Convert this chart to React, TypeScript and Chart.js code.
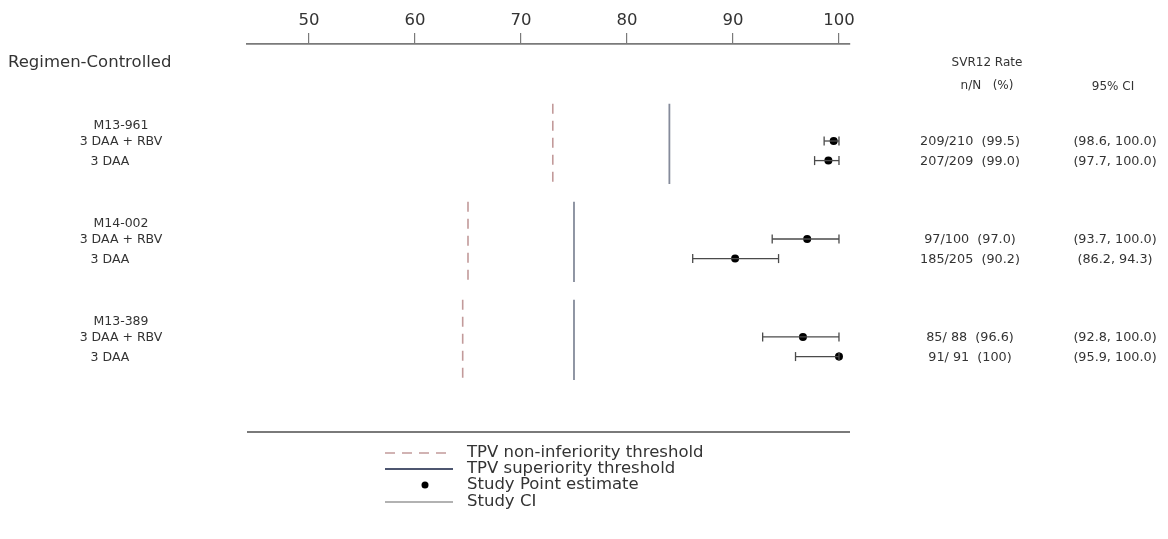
import React, { useEffect, useRef } from 'react';
import { Chart, registerables } from 'chart.js';

Chart.register(...registerables);

// ---- data ----
const studies = ['M13-961', 'M14-002', 'M13-389'];
const regimens = ['3 DAA + RBV', '3 DAA'];
const pointEstimates = [[99.5, 99.0], [97.0, 90.2], [96.6, 100]];
const ciLower = [[98.6, 97.7], [93.7, 86.2], [92.8, 95.9]];
const ciUpper = [[100.0, 100.0], [100.0, 94.3], [100.0, 100.0]];
const responders = [['209/210', '207/209'], ['97/100', '185/205'], ['85/ 88', '91/ 91']];
const rateLabels = [['(99.5)', '(99.0)'], ['(97.0)', '(90.2)'], ['(96.6)', '(100)']];
const ciLabels = [
  ['(98.6, 100.0)', '(97.7, 100.0)'],
  ['(93.7, 100.0)', '(86.2, 94.3)'],
  ['(92.8, 100.0)', '(95.9, 100.0)'],
];
const nonInferiority = [73, 65, 64.5];
const superiority = [84, 75, 75];
const xTicks = [50, 60, 70, 80, 90, 100];
const legendLabels = [
  'TPV non-inferiority threshold',
  'TPV superiority threshold',
  'Study Point estimate',
  'Study CI',
];

// ---- layout / style ----
const GROUP_STEP = 5;
const FONT = '"DejaVu Sans", Verdana, sans-serif';
const TEXT = '#333';
const NI_COLOR = '#c29a9a';
const SUP_COLOR = '#858b9b';
const CI_COLOR = '#4a4a4a';
const AXIS_COLOR = '#7a7a7a';

const rowY = (g: number, r: number) => g * GROUP_STEP + r;

const textPlugin = {
  id: 'forestText',
  afterDraw(chart: any) {
    const ctx = chart.ctx as CanvasRenderingContext2D;
    const { chartArea } = chart;
    const ys = chart.scales.y;
    ctx.save();

    // bottom rule
    ctx.strokeStyle = AXIS_COLOR;
    ctx.lineWidth = 1.8;
    ctx.beginPath();
    ctx.moveTo(chartArea.left, chartArea.bottom);
    ctx.lineTo(chartArea.right, chartArea.bottom);
    ctx.stroke();

    ctx.fillStyle = TEXT;
    ctx.textBaseline = 'middle';

    // headers
    ctx.font = `16.5px ${FONT}`;
    ctx.textAlign = 'left';
    ctx.fillText('Regimen-Controlled', 8, 63);
    ctx.font = `12px ${FONT}`;
    ctx.textAlign = 'center';
    ctx.fillText('SVR12 Rate', 987, 63);
    ctx.fillText('n/N   (%)', 987, 86);
    ctx.fillText('95% CI', 1113, 87);

    // rows
    studies.forEach((s, g) => {
      ctx.font = `12.5px ${FONT}`;
      ctx.textAlign = 'center';
      ctx.fillText(s, 121, ys.getPixelForValue(rowY(g, 0) - 0.78));
      regimens.forEach((rg, r) => {
        const y = ys.getPixelForValue(rowY(g, r)) + 1;
        ctx.textAlign = 'center';
        ctx.fillText(rg, r === 0 ? 121 : 110, y);
        ctx.font = `12.8px ${FONT}`;
        ctx.fillText(`${responders[g][r]}  ${rateLabels[g][r]}`, 970, y);
        ctx.fillText(ciLabels[g][r], 1115, y);
        ctx.font = `12.5px ${FONT}`;
      });
    });

    // legend
    const lx0 = 385;
    const lx1 = 453;
    const ly = [453, 469, 485, 502];
    ctx.lineWidth = 1.5;
    // dashed
    ctx.strokeStyle = NI_COLOR;
    ctx.setLineDash([10, 7]);
    ctx.beginPath();
    ctx.moveTo(lx0, ly[0]);
    ctx.lineTo(lx1, ly[0]);
    ctx.stroke();
    ctx.setLineDash([]);
    // superiority
    ctx.strokeStyle = '#4d5670';
    ctx.lineWidth = 1.8;
    ctx.beginPath();
    ctx.moveTo(lx0, ly[1]);
    ctx.lineTo(lx1, ly[1]);
    ctx.stroke();
    // point
    ctx.fillStyle = '#000';
    ctx.beginPath();
    ctx.arc(425, ly[2], 3.5, 0, Math.PI * 2);
    ctx.fill();
    // CI
    ctx.strokeStyle = '#666';
    ctx.lineWidth = 1.2;
    ctx.beginPath();
    ctx.moveTo(lx0, ly[3]);
    ctx.lineTo(lx1, ly[3]);
    ctx.stroke();

    ctx.fillStyle = TEXT;
    ctx.font = `16.5px ${FONT}`;
    ctx.textAlign = 'left';
    legendLabels.forEach((t, i) => ctx.fillText(t, 467, ly[i]));

    ctx.restore();
  },
};

export default function App() {
  const ref = useRef<HTMLCanvasElement | null>(null);

  useEffect(() => {
    if (!ref.current) return;
    const datasets: any[] = [];

    studies.forEach((_, g) => {
      const yTop = rowY(g, 0) - 1.9;
      const yBot = rowY(g, 1) + 1.2;
      datasets.push({
        data: [{ x: nonInferiority[g], y: yTop }, { x: nonInferiority[g], y: yBot }],
        showLine: true,
        borderColor: NI_COLOR,
        borderWidth: 1.6,
        borderDash: [10, 7],
        pointRadius: 0,
      });
      datasets.push({
        data: [{ x: superiority[g], y: yTop }, { x: superiority[g], y: yBot }],
        showLine: true,
        borderColor: SUP_COLOR,
        borderWidth: 1.8,
        pointRadius: 0,
      });
    });

    studies.forEach((_, g) => {
      regimens.forEach((__, r) => {
        const y = rowY(g, r);
        datasets.push({
          data: [{ x: ciLower[g][r], y }, { x: ciUpper[g][r], y }],
          showLine: true,
          borderColor: CI_COLOR,
          borderWidth: 1.3,
          pointStyle: 'line',
          rotation: 90,
          pointRadius: 4.5,
          pointBorderWidth: 1.3,
          pointBorderColor: CI_COLOR,
          pointBackgroundColor: CI_COLOR,
        });
      });
    });

    datasets.push({
      data: studies.flatMap((_, g) => regimens.map((__, r) => ({ x: pointEstimates[g][r], y: rowY(g, r) }))),
      showLine: false,
      pointRadius: 4,
      pointBackgroundColor: '#000',
      pointBorderColor: '#000',
      pointBorderWidth: 0,
    });

    const chart = new Chart(ref.current, {
      type: 'scatter',
      data: { datasets },
      options: {
        animation: false,
        responsive: true,
        maintainAspectRatio: false,
        layout: { padding: { left: 247, right: 318, top: 10, bottom: 107 } },
        plugins: { legend: { display: false }, tooltip: { enabled: false } },
        events: [],
        scales: {
          x: {
            type: 'linear',
            position: 'top',
            min: 44.15,
            max: 101.04,
            afterBuildTicks: (s: any) => {
              s.ticks = xTicks.map((v) => ({ value: v }));
            },
            afterFit: (s: any) => {
              s.height = 34;
            },
            ticks: {
              font: { family: FONT, size: 16.5 },
              color: TEXT,
              padding: 2,
              maxRotation: 0,
              autoSkip: false,
            },
            grid: {
              display: true,
              drawOnChartArea: false,
              drawTicks: true,
              tickLength: 11,
              color: AXIS_COLOR,
              lineWidth: 1.2,
            },
            border: { display: true, color: AXIS_COLOR, width: 1.8 },
          },
          y: {
            type: 'linear',
            display: false,
            min: -4.95,
            max: 14.85,
            reverse: true,
          },
        },
      },
      plugins: [textPlugin],
    });
    return () => chart.destroy();
  }, []);

  return (
    <div style={{ position: 'fixed', left: 0, top: 0, width: 1168, height: 539, background: '#fff' }}>
      <canvas ref={ref} />
    </div>
  );
}
